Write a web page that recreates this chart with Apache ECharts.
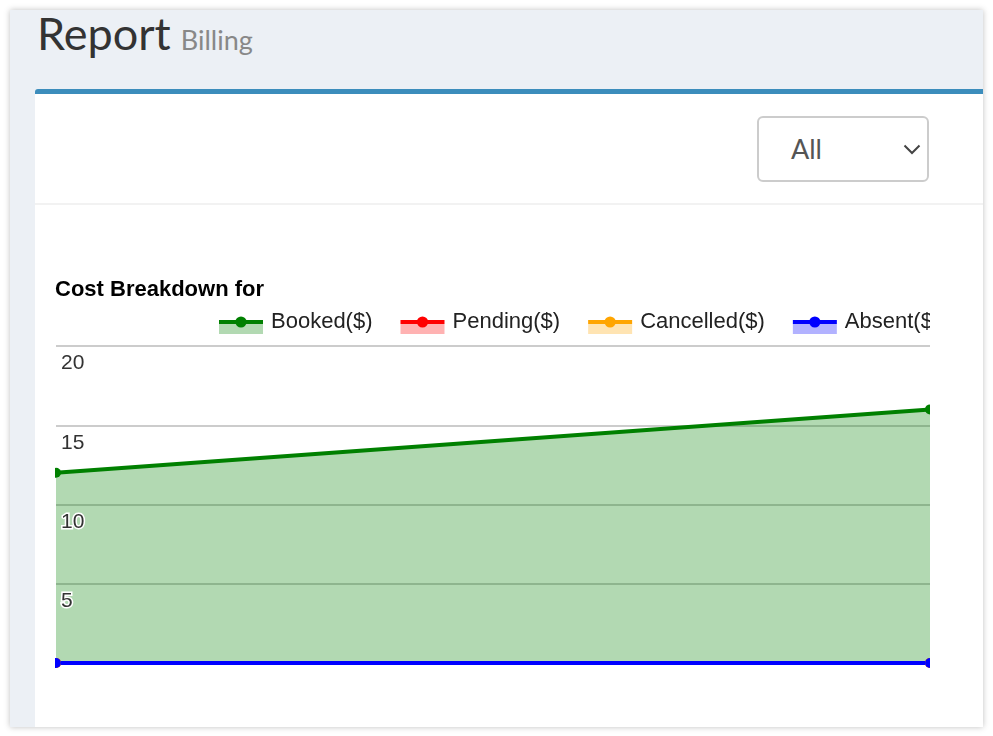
<!DOCTYPE html>
<html lang="en">
<head>
    <meta charset="UTF-8">
    <script src="https://cdn.jsdelivr.net/npm/echarts@6/dist/echarts.min.js"></script>
    <title>Report Billing</title>
    <style>
        * { padding: 0; margin: 0; }
        html, body { width: 993px; height: 736px; background: #fff; overflow: hidden; }
        .frame {
            position: absolute; left: 10px; top: 10px; width: 973px; height: 717px;
            background: #ecf0f5; box-shadow: 0 0 6px rgba(0,0,0,0.25);
        }
        .page-title {
            position: absolute; left: 37px; top: 6px; white-space: nowrap;
            font-family: Lato, "Open Sans", sans-serif; font-weight: 400;
            font-size: 45px; line-height: 54px; color: #333;
        }
        .page-title small { font-size: 27px; color: #888; margin-left: 10px; }
        .box {
            position: absolute; left: 35px; top: 89px; width: 948px; height: 638px;
            background: #fff; border-top: 5px solid #3c8dbc; border-top-left-radius: 3px;
            box-sizing: border-box;
        }
        .divider { position: absolute; left: 35px; top: 203px; width: 948px; height: 2px; background: #f2f2f2; }
        .select {
            position: absolute; left: 757px; top: 116px; width: 172px; height: 66px;
            box-sizing: border-box; border: 2px solid #cccccc; border-radius: 6px; background: #fff;
            font-family: Lato, "Open Sans", sans-serif; font-size: 27px; color: #555;
            line-height: 62px; padding-left: 32px;
        }
        .select svg { position: absolute; left: 144px; top: 26px; }
        .chart-wrap { position: absolute; left: 55px; top: 270px; width: 875px; height: 430px; overflow: hidden; }
        #chart { width: 1100px; height: 430px; }
    </style>
</head>
<body>
    <div class="frame"></div>
    <div class="page-title">Report<small>Billing</small></div>
    <div class="box"></div>
    <div class="divider"></div>
    <div class="select">All
        <svg width="18" height="11"><polyline points="1.5,1.5 9,9 16.5,1.5" fill="none" stroke="#444" stroke-width="2"/></svg>
    </div>
    <div class="chart-wrap"><div id="chart"></div></div>
    <script>
        var categories = ['Period 1', 'Period 2'];
        var seriesNames = ['Booked($)', 'Pending($)', 'Cancelled($)', 'Absent($)'];
        var seriesColors = ['#008000', '#ff0000', '#ffa500', '#0000ff'];
        var booked = [12, 16];
        var pending = [0, 0];
        var cancelled = [0, 0];
        var absent = [0, 0];
        var yMax = 20;
        var yStep = 5;

        var font = '"Liberation Sans", Arial, sans-serif';
        var values = [booked, pending, cancelled, absent];

        var series = [];
        for (var i = 0; i < seriesNames.length; i++) {
            series.push({
                name: seriesNames[i],
                type: 'line',
                data: values[i],
                color: seriesColors[i],
                symbol: 'circle',
                symbolSize: 10,
                showSymbol: true,
                lineStyle: { width: 4 },
                areaStyle: { opacity: 0.3 }
            });
        }

        var legendText = { fontFamily: font, fontSize: 22, padding: [4, 0, 0, 3] };
        var myChart = echarts.init(document.getElementById('chart'));
        var option = {
            animation: false,
            title: {
                text: 'Cost Breakdown for',
                left: 0,
                top: 9,
                padding: 0,
                textStyle: { fontFamily: font, fontSize: 22, fontWeight: 'bold', color: '#000' }
            },
            legend: [
                // pale fill strip under each legend line
                {
                    data: seriesNames,
                    left: 164,
                    top: 48,
                    padding: 0,
                    icon: 'rect',
                    itemWidth: 44,
                    itemHeight: 10,
                    itemGap: 28,
                    selectedMode: false,
                    itemStyle: { opacity: 0.3, borderWidth: 0 },
                    textStyle: Object.assign({ color: 'rgba(0,0,0,0)' }, legendText)
                },
                // line + dot, stroke widens the item by 2px
                {
                    data: seriesNames,
                    left: 162,
                    top: 41,
                    z: 6,
                    padding: 0,
                    itemWidth: 44,
                    itemHeight: 14,
                    itemGap: 26,
                    lineStyle: { width: 4 },
                    textStyle: Object.assign({ color: '#222' }, legendText)
                }
            ],
            grid: { left: 1, right: 225, top: 76, bottom: 37 },
            xAxis: {
                type: 'category',
                data: categories,
                boundaryGap: false,
                axisLine: { show: false },
                axisTick: { show: false },
                axisLabel: { show: false },
                splitLine: { show: false }
            },
            yAxis: [
                {
                    type: 'value',
                    min: 0,
                    max: yMax,
                    interval: yStep,
                    axisLine: { show: false },
                    axisTick: { show: false },
                    axisLabel: { show: false },
                    splitLine: { lineStyle: { color: '#cccccc', width: 2 } }
                },
                {
                    // labels drawn above the filled areas
                    type: 'value',
                    position: 'left',
                    z: 10,
                    min: 0,
                    max: yMax,
                    interval: yStep,
                    axisLine: { show: false },
                    axisTick: { show: false },
                    splitLine: { show: false },
                    axisLabel: {
                        inside: true,
                        margin: 5,
                        showMinLabel: false,
                        verticalAlign: 'top',
                        padding: [7, 0, 0, 0],
                        fontFamily: font,
                        fontSize: 21,
                        color: '#333',
                        textBorderColor: '#fff',
                        textBorderWidth: 3
                    }
                }
            ],
            series: series
        };
        myChart.setOption(option);
    </script>
</body>
</html>
